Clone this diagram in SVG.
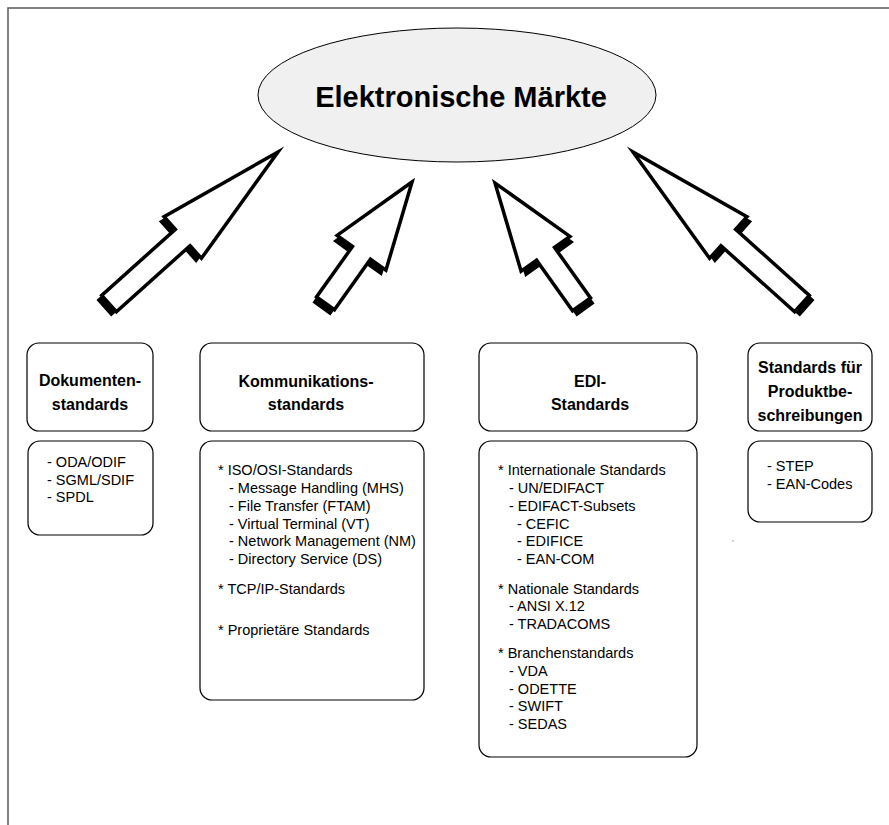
<svg xmlns="http://www.w3.org/2000/svg" width="889" height="825" viewBox="0 0 889 825">
<defs>
<style>
.frame{fill:none;stroke:#5a5a5a;stroke-width:1.5}
.box{fill:#fff;stroke:#000;stroke-width:1.2}
.hd{font-family:"Liberation Sans",Arial,sans-serif;font-weight:bold;font-size:16px;fill:#000;text-anchor:middle}
.tx{font-family:"Liberation Sans",Arial,sans-serif;font-size:14.5px;fill:#000}
.title{font-family:"Liberation Sans",Arial,sans-serif;font-weight:bold;font-size:29px;fill:#000;text-anchor:middle}
.aw{fill:#fff;stroke:#000;stroke-width:3.5;stroke-linejoin:miter;stroke-miterlimit:12}
.as{fill:#000}
</style>
<polygon id="bigArrow" points="0,0 -128,-28 -128,-11 -227,-11 -227,11 -128,11 -128,28"/>
<polygon id="smallArrow" points="0,0 -87,-30 -87,-11 -149,-11 -149,11 -87,11 -87,30"/>
</defs>
<rect width="889" height="825" fill="#fff"/>
<path class="frame" d="M8,825 V8 H889"/>

<g id="markets">
<ellipse cx="457" cy="95" rx="199" ry="67" fill="#f0f0f0" stroke="#000" stroke-width="1"/>
<text class="title" x="461" y="107">Elektronische Märkte</text>
</g>

<g id="connectors">
<g transform="translate(278,152) rotate(-41.9)">
<use href="#bigArrow" class="as" transform="translate(-7,0)"/>
<use href="#bigArrow" class="aw"/>
</g>
<g transform="translate(412,182) rotate(-54.5)">
<use href="#smallArrow" class="as" transform="translate(-7,0)"/>
<use href="#smallArrow" class="aw"/>
</g>
<g transform="translate(495,183) rotate(-125.5)">
<use href="#smallArrow" class="as" transform="translate(-7,0)"/>
<use href="#smallArrow" class="aw"/>
</g>
<g transform="translate(633,152) rotate(-138.1)">
<use href="#bigArrow" class="as" transform="translate(-7,0)"/>
<use href="#bigArrow" class="aw"/>
</g>
</g>

<g id="dok-head">
<rect class="box" x="27" y="343" width="126" height="88" rx="12"/>
<text class="hd" x="90" y="386">Dokumenten-</text>
<text class="hd" x="90" y="410">standards</text>
</g>
<g id="dok-list">
<rect class="box" x="28" y="441" width="125" height="94" rx="12"/>
<text class="tx" x="47" y="467">- ODA/ODIF</text>
<text class="tx" x="47" y="485">- SGML/SDIF</text>
<text class="tx" x="47" y="502">- SPDL</text>
</g>

<g id="komm-head">
<rect class="box" x="200" y="343" width="224" height="88" rx="12"/>
<text class="hd" x="306" y="387">Kommunikations-</text>
<text class="hd" x="306" y="410">standards</text>
</g>
<g id="komm-list">
<rect class="box" x="200" y="441" width="224" height="259" rx="12"/>
<text class="tx" x="218" y="475">* ISO/OSI-Standards</text>
<text class="tx" x="229" y="493">- Message Handling (MHS)</text>
<text class="tx" x="229" y="511">- File Transfer (FTAM)</text>
<text class="tx" x="229" y="529">- Virtual Terminal (VT)</text>
<text class="tx" x="229" y="546">- Network Management (NM)</text>
<text class="tx" x="229" y="564">- Directory Service (DS)</text>
<text class="tx" x="218" y="594">* TCP/IP-Standards</text>
<text class="tx" x="218" y="635">* Proprietäre Standards</text>
</g>

<g id="edi-head">
<rect class="box" x="479" y="343" width="218" height="88" rx="12"/>
<text class="hd" x="590" y="387">EDI-</text>
<text class="hd" x="590" y="410">Standards</text>
</g>
<g id="edi-list">
<rect class="box" x="479" y="441" width="218" height="316" rx="12"/>
<text class="tx" x="498" y="475">* Internationale Standards</text>
<text class="tx" x="509" y="493">- UN/EDIFACT</text>
<text class="tx" x="509" y="511">- EDIFACT-Subsets</text>
<text class="tx" x="517" y="529">- CEFIC</text>
<text class="tx" x="517" y="546">- EDIFICE</text>
<text class="tx" x="517" y="564">- EAN-COM</text>
<text class="tx" x="498" y="594">* Nationale Standards</text>
<text class="tx" x="509" y="611">- ANSI X.12</text>
<text class="tx" x="509" y="629">- TRADACOMS</text>
<text class="tx" x="498" y="658">* Branchenstandards</text>
<text class="tx" x="509" y="676">- VDA</text>
<text class="tx" x="509" y="694">- ODETTE</text>
<text class="tx" x="509" y="711">- SWIFT</text>
<text class="tx" x="509" y="729">- SEDAS</text>
</g>

<g id="prod-head">
<rect class="box" x="748" y="343" width="124" height="88" rx="12"/>
<text class="hd" x="810" y="373">Standards für</text>
<text class="hd" x="810" y="397">Produktbe-</text>
<text class="hd" x="810" y="421">schreibungen</text>
</g>
<g id="prod-list">
<rect class="box" x="748" y="441" width="124" height="81" rx="12"/>
<text class="tx" x="767" y="471">- STEP</text>
<text class="tx" x="767" y="489">- EAN-Codes</text>
</g>
<rect x="732.5" y="540.5" width="1" height="1" fill="#555"/>
</svg>
